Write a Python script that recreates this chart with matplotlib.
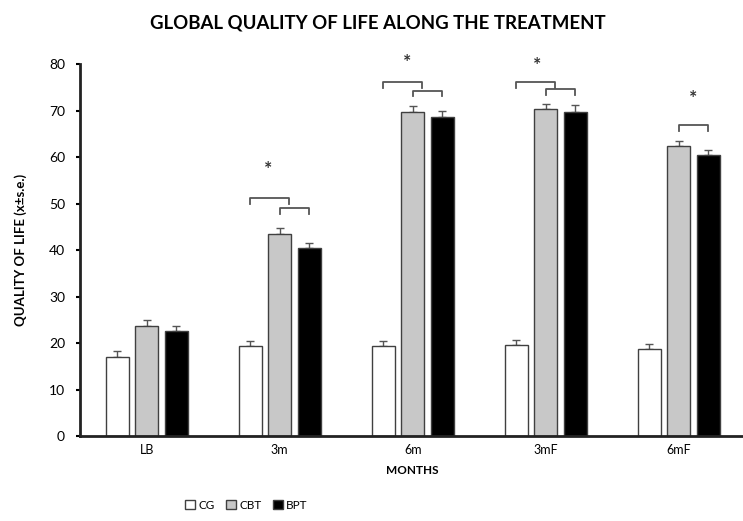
import numpy as np
import matplotlib
matplotlib.use("Agg")
import matplotlib.pyplot as plt

months = ["LB", "3m", "6m", "3mF", "6mF"]
groups = ["CG", "CBT", "BPT"]
cg = [16.9, 19.3, 19.3, 19.6, 18.7]
cbt = [23.7, 43.5, 69.8, 70.4, 62.3]
bpt = [22.6, 40.5, 68.7, 69.8, 60.4]
cg_se = [1.3, 1.1, 1.1, 1.1, 1.1]
cbt_se = [1.3, 1.3, 1.1, 1.0, 1.1]
bpt_se = [1.1, 1.1, 1.3, 1.3, 1.1]
colors = ["white", "#c8c8c8", "black"]

# significance brackets: (month index, from bar, to bar, height)
brackets = [(1, 0, 1.3, 51.2), (1, 1, 2, 49.0),
            (2, 0, 1.3, 76.1), (2, 1, 2, 74.3),
            (3, 0, 1.3, 76.1), (3, 1, 2, 74.6),
            (4, 1, 2, 66.9)]
stars = [(1, 0.6, 57.3), (2, 0.8, 80.4), (3, 0.7, 79.7), (4, 1.5, 72.6)]

plt.rcParams["font.family"] = ["Lato", "DejaVu Sans"]

fig = plt.figure(figsize=(7.43, 5.21), dpi=100)
ax = fig.add_axes([0.108, 0.163, 0.895, 0.714])

x = np.arange(len(months))
step = 0.222
width = 0.172
vals = [cg, cbt, bpt]
errs = [cg_se, cbt_se, bpt_se]
for i in range(3):
    pos = x + (i - 1) * step
    ax.bar(pos, vals[i], width, color=colors[i], edgecolor="#404040",
           linewidth=1.0, label=groups[i], zorder=2)
    ax.errorbar(pos, vals[i], yerr=[np.zeros(5), errs[i]], fmt="none",
                ecolor="#555555", elinewidth=1.0, capsize=3, capthick=1.0, zorder=1)

for m, a, b, h in brackets:
    x0 = m + (a - 1) * step
    x1 = m + (b - 1) * step
    ax.plot([x0, x0, x1, x1], [h - 1.2, h, h, h - 1.2], color="#555555",
            lw=1.3, clip_on=False)
for m, off, h in stars:
    ax.text(m + (off - 1) * step, h, "*", ha="center", va="center",
            fontsize=14, fontweight="bold", color="#333333")

ax.set_xlim(-0.5, 4.5)
ax.set_ylim(0, 80)
ax.set_yticks(range(0, 81, 10))
ax.set_xticks(x)
ax.set_xticklabels(months)
ax.tick_params(axis="x", length=0, labelsize=9, pad=6)
ax.tick_params(axis="y", length=3, labelsize=10, width=1.5, pad=8)
for s in ["top", "right"]:
    ax.spines[s].set_visible(False)
for s in ["left", "bottom"]:
    ax.spines[s].set_linewidth(2)
    ax.spines[s].set_color("#222222")

ax.set_xlabel("MONTHS", fontsize=8.5, fontweight="bold", labelpad=6)
ax.set_ylabel("QUALITY OF LIFE (x±s.e.)", fontsize=9.5, fontweight="bold", labelpad=16)
fig.text(0.508, 0.955, "GLOBAL QUALITY OF LIFE ALONG THE TREATMENT",
         ha="center", va="center", fontsize=13.4, fontweight="bold")

leg = fig.legend(loc="center left", bbox_to_anchor=(0.235, 0.03), ncol=3,
                 frameon=False, fontsize=8.5, handlelength=0.8, handleheight=0.8,
                 handletextpad=0.3, columnspacing=1.0)

fig.savefig("out.png", dpi=100)
